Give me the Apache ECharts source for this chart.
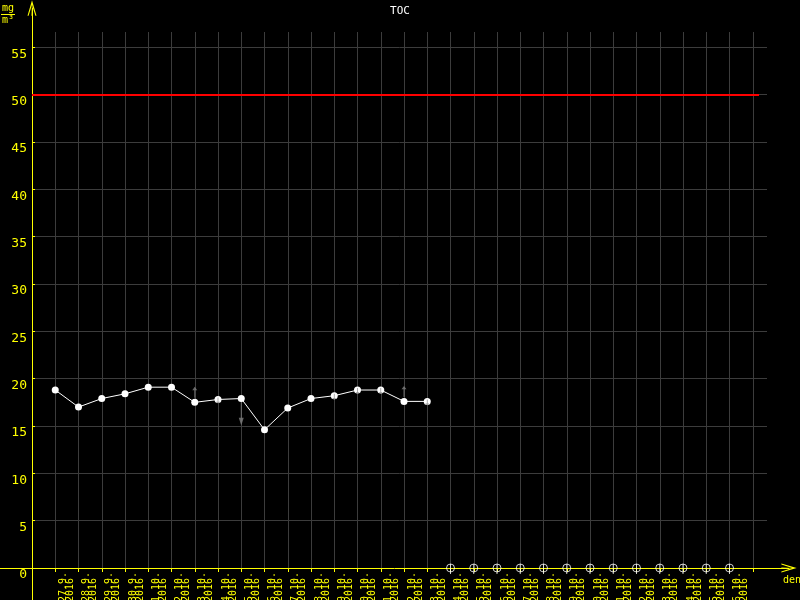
<!DOCTYPE html>
<html>
<head>
<meta charset="utf-8">
<title>TOC</title>
<script src="https://cdn.jsdelivr.net/npm/echarts@6/dist/echarts.min.js"></script>
<style>
  html, body { margin: 0; padding: 0; background: #000; }
  #chart { width: 800px; height: 600px; }
</style>
</head>
<body>
<div id="chart"></div>
<script>
// dny na ose x (kazdy den ma tick na zacatku a popisek v pasmu)
const dates = ['27.9.', '28.9.', '29.9.', '30.9.', '1.10.', '2.10.', '3.10.', '4.10.',
  '5.10.', '6.10.', '7.10.', '8.10.', '9.10.', '10.10.', '11.10.', '12.10.', '13.10.',
  '14.10.', '15.10.', '16.10.', '17.10.', '18.10.', '19.10.', '20.10.', '21.10.',
  '22.10.', '23.10.', '24.10.', '25.10.', '26.10.']
const year = '2016'
// namerene hodnoty TOC (mg/m3), null = bez dat
const tocValues = [18.8, 17.0, 17.9, 18.4, 19.1, 19.1, 17.5, 17.8, 17.9, 14.6, 16.9,
  17.9, 18.2, 18.8, 18.8, 17.6, 17.6,
  null, null, null, null, null, null, null, null, null, null, null, null, null]
const limitValue = 50
// sede sipky u bodu
const flagsUp = [6, 15]
const flagsDown = [8]
const flagsSmall = [7, 12, 13, 14, 16]

const yellow = '#ffff00'
const gridColor = '#3c3c3c'
const font = 'DejaVu Sans Mono'

// rozmery os v pixelech
const step = 23.25
const yPx = 568 / 60
const xMax = -1 + (800 - 32 - 33) / step
const yMax = (568 - 32) / yPx

const points = tocValues.map((v, i) => [i, v])
const missing = tocValues.map((v, i) => v === null ? [i, 0] : null).filter(d => d)
const pick = list => list.map(i => [i, tocValues[i]])
const arrowPath = 'path://M5,0 L10,6 L6,6 L6,20 L4,20 L4,6 L0,6 Z'
const chevron = 'path://M5,0 L10,17 L8.8,17 L5,5 L5.6,17 L4.4,17 L5,5 L1.2,17 L0,17 Z'

const chart = echarts.init(document.getElementById('chart'))
chart.setOption({
  backgroundColor: '#000',
  animation: false,
  title: {
    text: 'TOC',
    left: 'center',
    top: 1,
    textStyle: { color: '#fff', fontFamily: font, fontSize: 11, fontWeight: 'normal' }
  },
  grid: [
    { left: 32, right: 33, top: 32, bottom: 32, outerBoundsMode: 'none' },
    { left: 0, right: 11, top: 8, bottom: 0, outerBoundsMode: 'none' },
    { left: 32 + step, right: 800 - 32 - step * 31, top: 32, bottom: 32, outerBoundsMode: 'none' }
  ],
  xAxis: [
    {
      gridIndex: 0,
      type: 'value',
      min: -1,
      max: xMax,
      interval: 1,
      axisLine: { show: false, onZero: false },
      axisTick: { show: false },
      axisLabel: { show: false },
      splitLine: { show: true, showMinLine: false, showMaxLine: false, lineStyle: { color: gridColor, width: 1 } }
    },
    {
      gridIndex: 1,
      type: 'value',
      min: -32,
      max: 757,
      axisLine: { show: true, onZero: true, symbol: ['none', chevron], symbolSize: [9, 17], lineStyle: { color: yellow, width: 1 } },
      axisTick: { show: false },
      axisLabel: { show: false },
      splitLine: { show: false }
    },
    {
      gridIndex: 2,
      type: 'category',
      data: dates,
      boundaryGap: true,
      axisLine: { show: false, onZero: false },
      axisTick: { show: true, length: 4, lineStyle: { color: yellow } },
      axisLabel: {
        interval: 0,
        rotate: 90,
        margin: 4,
        color: yellow,
        fontFamily: font,
        fontSize: 10,
        lineHeight: 7,
        formatter: d => d + '\n' + year + ' '
      },
      splitLine: { show: false }
    }
  ],
  yAxis: [
    {
      gridIndex: 0,
      type: 'value',
      min: 0,
      max: yMax,
      interval: 5,
      axisLine: { show: false, onZero: false },
      axisTick: { show: true, inside: true, length: 3, lineStyle: { color: yellow } },
      axisLabel: {
        showMaxLabel: false,
        color: yellow,
        fontFamily: font,
        fontSize: 13,
        margin: 5,
        verticalAlign: 'top',
        lineHeight: 14
      },
      splitLine: { show: true, showMinLine: false, showMaxLine: false, lineStyle: { color: gridColor, width: 1 } }
    },
    {
      gridIndex: 1,
      type: 'value',
      min: -32,
      max: 560,
      axisLine: { show: true, onZero: true, symbol: ['none', chevron], symbolSize: [9, 17], lineStyle: { color: yellow, width: 1 } },
      axisTick: { show: false },
      axisLabel: { show: false },
      splitLine: { show: false }
    },
    { gridIndex: 2, type: 'value', show: false }
  ],
  graphic: [
    { type: 'text', left: 2, top: 3, style: { text: 'mg', fill: yellow, font: '10px ' + font } },
    { type: 'line', shape: { x1: 1, y1: 14.5, x2: 15, y2: 14.5 }, style: { stroke: yellow, lineWidth: 1 } },
    { type: 'text', left: 2, top: 15, style: { text: 'm³', fill: yellow, font: '10px ' + font } },
    { type: 'text', left: 783, top: 575, style: { text: 'den', fill: yellow, font: '10px ' + font } }
  ],
  series: [
    {
      name: 'TOC',
      type: 'line',
      xAxisIndex: 0,
      yAxisIndex: 0,
      data: points,
      connectNulls: false,
      symbol: 'circle',
      symbolSize: 7,
      itemStyle: { color: '#fff' },
      lineStyle: { color: '#fff', width: 1 },
      z: 5,
      markLine: {
        silent: true,
        symbol: 'none',
        label: { show: false },
        lineStyle: { color: '#ff0000', width: 2, type: 'solid' },
        data: [[{ coord: [-1, limitValue] }, { coord: [30.27, limitValue] }]]
      }
    },
    {
      type: 'scatter',
      xAxisIndex: 0,
      yAxisIndex: 0,
      data: pick(flagsUp),
      symbol: arrowPath,
      symbolSize: [5, 11],
      symbolOffset: [0, -10],
      itemStyle: { color: '#808080' },
      z: 4
    },
    {
      type: 'scatter',
      xAxisIndex: 0,
      yAxisIndex: 0,
      data: pick(flagsDown),
      symbol: arrowPath,
      symbolRotate: 180,
      symbolSize: [5, 26],
      symbolOffset: [0, 14],
      itemStyle: { color: '#808080' },
      z: 4
    },
    {
      type: 'scatter',
      xAxisIndex: 0,
      yAxisIndex: 0,
      data: pick(flagsSmall),
      symbol: arrowPath,
      symbolRotate: 180,
      symbolSize: [4, 6],
      symbolOffset: [0, 1],
      itemStyle: { color: '#808080' },
      z: 6
    },
    {
      type: 'scatter',
      xAxisIndex: 0,
      yAxisIndex: 0,
      data: missing,
      symbol: 'circle',
      symbolSize: 8,
      itemStyle: { color: 'transparent', borderColor: '#fff', borderWidth: 1 },
      z: 6
    },
    {
      type: 'scatter',
      xAxisIndex: 0,
      yAxisIndex: 0,
      data: missing,
      symbol: 'rect',
      symbolSize: [1, 10],
      symbolOffset: [0, 1],
      itemStyle: { color: '#fff' },
      z: 6
    }
  ]
})
</script>
</body>
</html>
